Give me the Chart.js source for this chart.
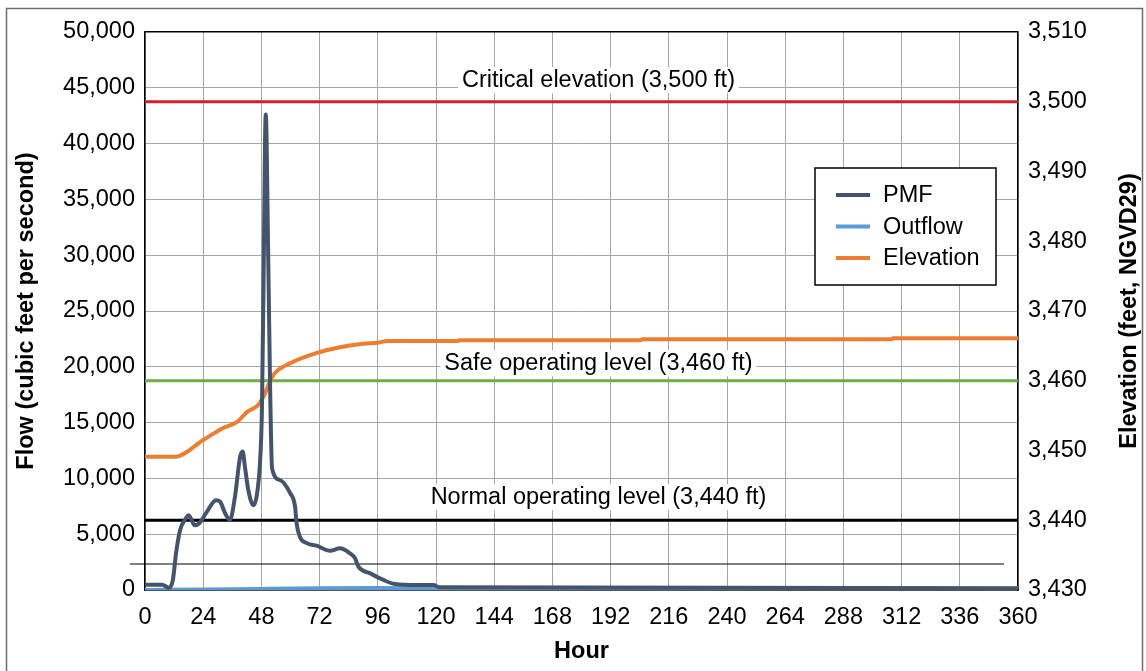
<!DOCTYPE html>
<html>
<head>
<meta charset="utf-8">
<script src="https://cdn.jsdelivr.net/npm/chart.js@4.4.0/dist/chart.umd.min.js"></script>
<style>
  html, body { margin: 0; padding: 0; background: #fff; }
  #wrap { width: 1146px; height: 671px; }
</style>
</head>
<body>
<div id="wrap"><canvas id="chart" width="1146" height="671"></canvas></div>
<script>
// PMF inflow hydrograph (cfs)
const pmfHours = [0, 7, 10, 11.5, 12.8, 14.5, 16.5, 18, 20.5, 22.5, 25.5, 29.3, 31, 33, 35, 37.1, 39.2, 40.3, 41.2, 42.6, 44.7, 46, 47.4, 48.2, 48.8, 49.8, 50.8, 51.6, 52.4, 55.7, 59.8, 61.9, 62.5, 63.9, 66.7, 70.8, 76.3, 80.4, 84.5, 86.6, 88, 92.8, 98.3, 103, 112, 118.9, 121.6, 360];
const pmfFlow = [480, 480, 200, 900, 3300, 5400, 6300, 6700, 5800, 6000, 7000, 8050, 7900, 6900, 6270, 8360, 11900, 12400, 11050, 8960, 7600, 8360, 11350, 16000, 26000, 42600, 30000, 18000, 10900, 9850, 8700, 7450, 6000, 4750, 4200, 3970, 3520, 3730, 3290, 2840, 2090, 1500, 900, 540, 450, 450, 240, 150];

// Outflow (cfs)
const outHours = [0, 24, 48, 72, 96, 120, 360];
const outFlow = [0, 40, 100, 150, 170, 160, 120];

// Reservoir elevation (ft)
const elevHours = [0, 12.4, 24, 32, 38, 42, 46.6, 48.8, 52.9, 59.8, 70.9, 80.4, 90, 96, 100, 129, 129.5, 204.5, 205, 308, 308.5, 360];
const elevFeet = [3449.1, 3449.1, 3451.5, 3453.2, 3454.1, 3455.5, 3456.5, 3457.7, 3460.8, 3462.5, 3464.0, 3464.8, 3465.3, 3465.45, 3465.7, 3465.7, 3465.8, 3465.8, 3465.95, 3465.95, 3466.1, 3466.1];

// reference levels
const refNames = ['Critical elevation (3,500 ft)', 'Safe operating level (3,460 ft)', 'Normal operating level (3,440 ft)'];
const refLevels = [3500, 3460, 3440];
const refColors = ['#d0202f', '#70ad47', '#000000'];
const refLabelHour = 187;
const refLabelElev = [3503.1, 3462.5, 3443.3];

// thin unlabeled line
const thinHours = [-6, 354];
const thinFlow = [2330, 2330];

const legendNames = ['PMF', 'Outflow', 'Elevation'];
const seriesColors = ['#44546a', '#5b9bd5', '#ed7d31'];

const FONT = "'Liberation Sans', Arial, sans-serif";
const FS = 23.5;
const toPts = (xs, ys) => xs.map((x, i) => ({ x: x, y: ys[i] }));

const overlay = {
    id: 'overlay',
    beforeDraw(chart) {
        const ctx = chart.ctx;
        ctx.save();
        ctx.fillStyle = '#fff';
        ctx.fillRect(0, 0, chart.width, chart.height);
        ctx.strokeStyle = '#6d6d6d';
        ctx.lineWidth = 1.5;
        ctx.strokeRect(6.5, 8.5, 1136, 700);
        ctx.restore();
    },
    beforeDatasetsDraw(chart) {
        const ctx = chart.ctx;
        const xs = chart.scales.x, y1 = chart.scales.y1;
        ctx.save();
        ctx.font = FS + 'px ' + FONT;
        ctx.textAlign = 'center';
        ctx.textBaseline = 'middle';
        refNames.forEach((name, i) => {
            const px = xs.getPixelForValue(refLabelHour);
            const py = y1.getPixelForValue(refLabelElev[i]);
            const w = ctx.measureText(name).width;
            ctx.fillStyle = '#fff';
            ctx.fillRect(px - w / 2 - 4, py - 13, w + 8, 26);
            ctx.fillStyle = '#000';
            ctx.fillText(name, px, py);
        });
        ctx.restore();
    },
    afterDatasetsDraw(chart) {
        const ctx = chart.ctx;
        ctx.save();
        // legend box
        ctx.fillStyle = '#fff';
        ctx.fillRect(815, 168, 181, 117);
        ctx.strokeStyle = '#000';
        ctx.lineWidth = 1.5;
        ctx.strokeRect(815, 168, 181, 117);
        ctx.font = FS + 'px ' + FONT;
        ctx.textBaseline = 'middle';
        ctx.textAlign = 'left';
        legendNames.forEach((name, i) => {
            const ly = 195 + i * 31.5;
            ctx.strokeStyle = seriesColors[i];
            ctx.lineWidth = 4;
            ctx.beginPath();
            ctx.moveTo(836, ly);
            ctx.lineTo(870, ly);
            ctx.stroke();
            ctx.fillStyle = '#000';
            ctx.fillText(name, 883, ly + 1);
        });
        ctx.restore();
    },
    afterDraw(chart) {
        const ctx = chart.ctx;
        const a = chart.chartArea;
        const mid = (a.top + a.bottom) / 2;
        ctx.save();
        ctx.fillStyle = '#000';
        ctx.font = 'bold ' + FS + 'px ' + FONT;
        ctx.textAlign = 'center';
        ctx.textBaseline = 'middle';
        ctx.fillText('Hour', (a.left + a.right) / 2, 652);
        ctx.translate(27, mid);
        ctx.rotate(-Math.PI / 2);
        ctx.fillText('Flow (cubic feet per second)', 0, 0);
        ctx.restore();
        ctx.save();
        ctx.fillStyle = '#000';
        ctx.font = 'bold ' + FS + 'px ' + FONT;
        ctx.textAlign = 'center';
        ctx.textBaseline = 'middle';
        ctx.translate(1130, mid);
        ctx.rotate(-Math.PI / 2);
        ctx.fillText('Elevation (feet, NGVD29)', 0, 0);
        ctx.restore();
    }
};

const datasets = [
    { label: 'PMF', data: toPts(pmfHours, pmfFlow), yAxisID: 'y', borderColor: seriesColors[0], borderWidth: 4, cubicInterpolationMode: 'monotone' },
    { label: 'Outflow', data: toPts(outHours, outFlow), yAxisID: 'y', borderColor: seriesColors[1], borderWidth: 4, cubicInterpolationMode: 'monotone' },
    { label: 'Elevation', data: toPts(elevHours, elevFeet), yAxisID: 'y1', borderColor: seriesColors[2], borderWidth: 4, cubicInterpolationMode: 'monotone' }
];
refLevels.forEach((lvl, i) => {
    datasets.push({ label: refNames[i], data: [{ x: 0, y: lvl }, { x: 360, y: lvl }], yAxisID: 'y1', borderColor: refColors[i], borderWidth: 3 });
});
datasets.push({ label: 'thin', data: toPts(thinHours, thinFlow), yAxisID: 'y', borderColor: '#000', borderWidth: 1.2, clip: false });

const fmt = v => Number(v).toLocaleString('en-US');
const gridGrey = '#a6a6a6';

new Chart(document.getElementById('chart'), {
    type: 'line',
    data: { datasets: datasets },
    options: {
        responsive: false,
        animation: false,
        devicePixelRatio: 1,
        layout: { padding: { top: 32, left: 0, right: 0, bottom: 0 } },
        elements: { point: { radius: 0 }, line: { borderJoinStyle: 'round', borderCapStyle: 'round' } },
        plugins: { legend: { display: false }, tooltip: { enabled: false } },
        scales: {
            x: {
                type: 'linear', min: 0, max: 360,
                ticks: { stepSize: 24, color: '#000', font: { family: FONT, size: FS }, padding: 13, maxRotation: 0 },
                grid: { color: gridGrey, lineWidth: 1, drawTicks: false },
                border: { color: '#000', width: 1.5 },
                afterFit: s => { s.height = 81; }
            },
            y: {
                position: 'left', min: 0, max: 50000,
                ticks: { stepSize: 5000, color: '#000', font: { family: FONT, size: FS }, padding: 10, callback: fmt },
                grid: { color: c => c.tick.value === 50000 ? '#000' : gridGrey, lineWidth: c => c.tick.value === 50000 ? 1.5 : 1, drawTicks: false },
                border: { color: '#000', width: 1.5 },
                afterFit: s => { s.width = 145; }
            },
            y1: {
                position: 'right', min: 3430, max: 3510,
                ticks: { stepSize: 10, color: '#000', font: { family: FONT, size: FS }, padding: 10, callback: fmt },
                grid: { drawOnChartArea: false, drawTicks: false },
                border: { color: '#000', width: 1.5 },
                afterFit: s => { s.width = 128; }
            }
        }
    },
    plugins: [overlay]
});
</script>
</body>
</html>
